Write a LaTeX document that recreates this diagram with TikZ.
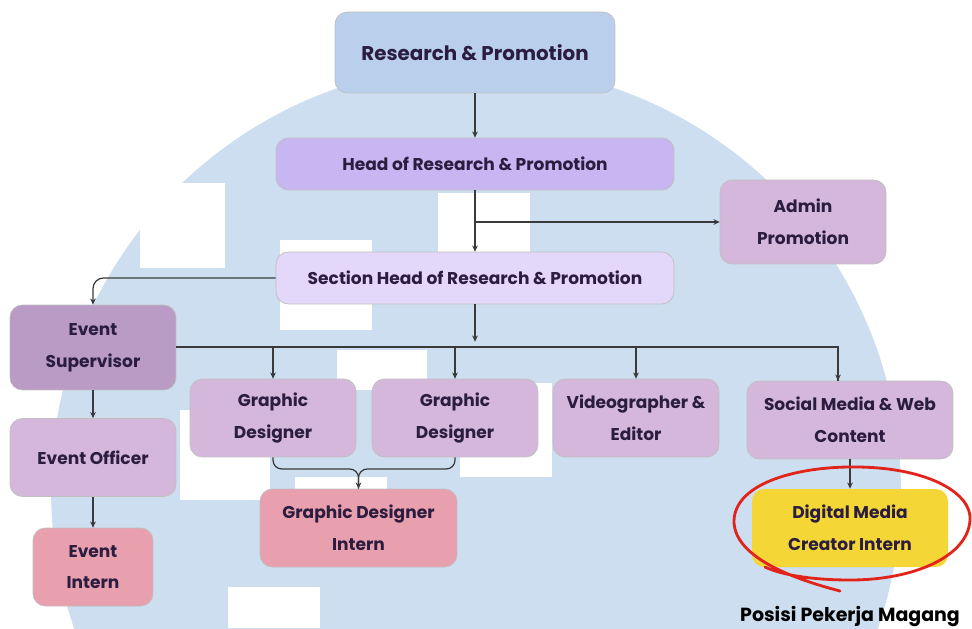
\documentclass[tikz,border=0pt]{standalone}
\usepackage{tikz}
\usepackage{xcolor}
\usepackage{fontspec}
\setmainfont{Poppins}
\usetikzlibrary{arrows.meta}

\definecolor{bgblue}{HTML}{CCDEEF}
\definecolor{rpblue}{HTML}{BACFEC}
\definecolor{headpurple}{HTML}{C8B6F2}
\definecolor{secpurple}{HTML}{E3D7FA}
\definecolor{supmauve}{HTML}{B99BC6}
\definecolor{mauve}{HTML}{D5B7DC}
\definecolor{internpink}{HTML}{E9A0AE}
\definecolor{dmcyellow}{HTML}{F4D637}
\definecolor{txt}{HTML}{2B1D3F}
\definecolor{linegray}{HTML}{3A3A3A}
\definecolor{markred}{HTML}{E2231A}

\begin{document}
\begin{tikzpicture}[x=0.02cm,y=-0.02cm,
	box/.style={draw=black!25,line width=0.4pt,rounded corners=7pt,align=center,text=txt,inner sep=0pt,
		font=\bfseries\fontsize{9.7}{18}\selectfont},
	wide/.style={box,minimum width=7.96cm,minimum height=1.04cm},
	unit/.style={box,fill=mauve,minimum width=3.32cm,minimum height=1.56cm},
	intern/.style={box,fill=internpink,minimum height=1.56cm},
	conn/.style={draw=linegray,line width=0.7pt,-{Stealth[length=3.5pt,width=3.2pt]}},
	link/.style={draw=linegray,line width=0.7pt}]
	\useasboundingbox (0,0) rectangle (972,628);
	\begin{scope}
		\clip (0,0) rectangle (972,628);
		\fill [bgblue] (476,490) circle [radius=8.5cm];
		\fill [white] (140,183) rectangle (225,268);
		\fill [white] (280,240) rectangle (372,330);
		\fill [white] (438,193) rectangle (530,252);
		\fill [white] (337,350) rectangle (427,390);
		\fill [white] (180,410) rectangle (270,500);
		\fill [white] (295,477) rectangle (387,520);
		\fill [white] (460,383) rectangle (552,477);
		\fill [white] (228,587) rectangle (320,628);
	\end{scope}
	\node [box,fill=rpblue,minimum width=5.6cm,minimum height=1.62cm,font=\bfseries\fontsize{11.3}{18}\selectfont] (rp) at (475,52.5) {Research \& Promotion};
	\node [wide,fill=headpurple] (head) at (475,164) {Head of Research \& Promotion};
	\node [unit,minimum height=1.68cm] (admin) at (803,222) {Admin\\Promotion};
	\node [wide,fill=secpurple] (sect) at (475,278) {Section Head of Research \& Promotion};
	\node [unit,fill=supmauve,minimum height=1.7cm] (esup) at (93,347.5) {Event\\Supervisor};
	\node [unit] (eoff) at (93,457.5) {Event Officer};
	\node [intern,minimum width=2.4cm] (eint) at (93,567) {Event\\Intern};
	\node [unit] (gda) at (273,418) {Graphic\\Designer};
	\node [unit] (gdb) at (455,418) {Graphic\\Designer};
	\node [unit] (video) at (636,418) {Videographer \&\\Editor};
	\node [unit,minimum width=4.12cm] (social) at (850,420) {Social Media \& Web\\Content};
	\node [intern,minimum width=3.94cm] (gdint) at (358.5,528) {Graphic Designer\\Intern};
	\node [box,fill=dmcyellow,draw=none,minimum width=3.92cm,minimum height=1.56cm] (dmc) at (850,528) {Digital Media\\Creator Intern};
	\coordinate (adm) at (475,222);
	\coordinate (bus) at (475,347);
	\coordinate (gdjoin) at (358.5,469);
	\draw [conn] (rp) -- (head);
	\draw [conn] (head) -- (sect);
	\draw [conn] (adm) -- (admin.west);
	\draw [conn,rounded corners=6pt] (sect.west) -| (esup.north);
	\draw [conn,shorten >=3pt] (sect) -- (bus);
	\draw [link] (esup.east |- bus) -| ([xshift=-0.24cm]social.north);
	\draw [conn] ([xshift=-0.24cm]social.north |- bus) -- ([xshift=-0.24cm]social.north);
	\draw [conn] (gda.north |- bus) -- (gda);
	\draw [conn] (gdb.north |- bus) -- (gdb);
	\draw [conn] (video.north |- bus) -- (video);
	\draw [conn] (esup) -- (eoff);
	\draw [conn] (eoff) -- (eint);
	\draw [conn,rounded corners=5pt] (gda.south) |- (gdjoin) -- (gdint.north);
	\draw [link,rounded corners=5pt] (gdb.south) |- (gdjoin) -- (gdint.north);
	\draw [conn] (social) -- (dmc);
	\draw [markred,line width=1.6pt,line cap=round] (840,591) .. controls (790,578) and (733,556) .. (734,520)
		.. controls (736,482) and (800,466) .. (858,467) .. controls (930,468) and (972,494) .. (970,520)
		.. controls (968,556) and (915,580) .. (850,580) .. controls (812,580) and (782,575) .. (765,567);
	\node [font=\bfseries\fontsize{10.8}{12}\selectfont,text=black] (tag) at (850,617) {Posisi Pekerja Magang};
\end{tikzpicture}
\end{document}
